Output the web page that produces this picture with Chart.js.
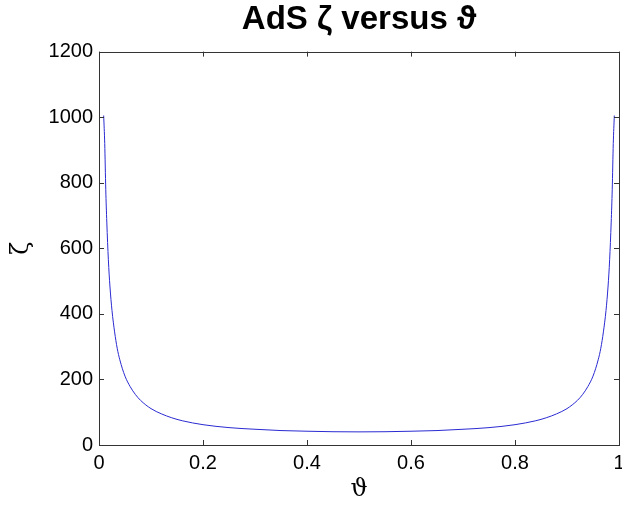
<!DOCTYPE html>
<html>
<head>
<meta charset="utf-8">
<title>AdS zeta versus theta</title>
<script src="https://cdn.jsdelivr.net/npm/chart.js@4.4.1/dist/chart.umd.min.js"></script>
<style>
    html, body { margin: 0; padding: 0; background: #fff; }
    #wrap { width: 622px; height: 505px; position: relative; }
</style>
</head>
<body>
<div id="wrap"><canvas id="zeta-chart"></canvas></div>
<script>
// values
const theta = [0.009, 0.011, 0.013, 0.015, 0.018, 0.021, 0.025, 0.03, 0.035, 0.04,
    0.05, 0.06, 0.07, 0.08, 0.1, 0.12, 0.14, 0.16, 0.2, 0.25, 0.3, 0.35, 0.4, 0.45,
    0.5, 0.55, 0.6, 0.65, 0.7, 0.75, 0.8, 0.84, 0.86, 0.88, 0.9, 0.92, 0.93, 0.94,
    0.95, 0.96, 0.965, 0.97, 0.975, 0.979, 0.982, 0.985, 0.987, 0.989, 0.991];
const zeta = [1005, 920, 780, 680, 565, 485, 410, 345, 295, 260,
    210, 178, 154, 136, 111, 95, 83, 74, 62, 53, 48, 44, 42, 40.5,
    40, 40.5, 42, 44, 48, 53, 62, 74, 83, 95, 111, 136, 154, 178,
    210, 260, 295, 345, 410, 485, 565, 680, 780, 920, 1005];

const xTicks = [0, 0.2, 0.4, 0.6, 0.8, 1];
const yTicks = [0, 200, 400, 600, 800, 1000, 1200];

const TICK_LEN = 5;

// matlab style box with inward ticks on all four sides
const boxPlugin = {
    id: 'matlabBox',
    afterDatasetsDraw(chart) {
        const {ctx, chartArea: a, scales} = chart;
        ctx.save();
        ctx.strokeStyle = '#333';
        ctx.lineWidth = 1;
        ctx.beginPath();
        xTicks.forEach(v => {
            const px = Math.round(scales.x.getPixelForValue(v)) + 0.5;
            ctx.moveTo(px, a.bottom);
            ctx.lineTo(px, a.bottom - TICK_LEN);
            ctx.moveTo(px, a.top);
            ctx.lineTo(px, a.top + TICK_LEN);
        });
        yTicks.forEach(v => {
            const py = Math.round(scales.y.getPixelForValue(v)) + 0.5;
            ctx.moveTo(a.left, py);
            ctx.lineTo(a.left + TICK_LEN, py);
            ctx.moveTo(a.right, py);
            ctx.lineTo(a.right - TICK_LEN, py);
        });
        ctx.stroke();
        ctx.strokeRect(Math.round(a.left) + 0.5, Math.round(a.top) + 0.5,
            Math.round(a.right - a.left), Math.round(a.bottom - a.top));
        ctx.restore();
    }
};

const tickFont = {family: '"Liberation Sans", Arial, sans-serif', size: 20};
const greekFont = {family: '"DejaVu Serif", "Liberation Serif", serif', size: 24};

const chart = new Chart(document.getElementById('zeta-chart'), {
    type: 'scatter',
    data: {
        datasets: [{
            label: 'zeta',
            data: theta.map((t, i) => ({x: t, y: zeta[i]})),
            showLine: true,
            borderColor: '#2a2ad2',
            borderWidth: 1,
            pointRadius: 0,
            cubicInterpolationMode: 'monotone',
            fill: false
        }]
    },
    options: {
        responsive: true,
        maintainAspectRatio: false,
        animation: false,
        layout: { padding: {left: 0, right: 3, top: 0, bottom: 0} },
        plugins: {
            legend: { display: false },
            tooltip: { enabled: false },
            title: {
                display: true,
                text: 'AdS \u03B6 versus \u03D1',
                fullSize: false,
                color: '#000',
                font: {family: '"Liberation Sans", Arial, sans-serif', size: 33, weight: 'bold'},
                padding: {top: 0, bottom: 12}
            }
        },
        scales: {
            x: {
                type: 'linear',
                min: 0,
                max: 1,
                grid: { display: false, drawTicks: false },
                border: { display: false },
                ticks: {
                    stepSize: 0.2, padding: 6, color: '#000', font: tickFont,
                    callback: v => String(Math.round(v * 10) / 10)
                },
                title: {
                    display: true,
                    text: '\u03D1',
                    color: '#000',
                    font: greekFont,
                    padding: {top: 0, bottom: 1}
                },
                afterFit(scale) {
                    scale.height = 60;
                    scale.paddingLeft = 0;
                    scale.paddingRight = 0;
                }
            },
            y: {
                type: 'linear',
                min: 0,
                max: 1200,
                grid: { display: false, drawTicks: false },
                border: { display: false },
                ticks: {
                    stepSize: 200, padding: 6, color: '#000', font: tickFont,
                    callback: v => String(v)
                },
                title: {
                    display: true,
                    text: '\u03B6',
                    color: '#000',
                    font: greekFont,
                    padding: {top: 7, bottom: 0}
                },
                afterFit(scale) {
                    scale.width = 99;
                }
            }
        }
    },
    plugins: [boxPlugin]
});
</script>
</body>
</html>
